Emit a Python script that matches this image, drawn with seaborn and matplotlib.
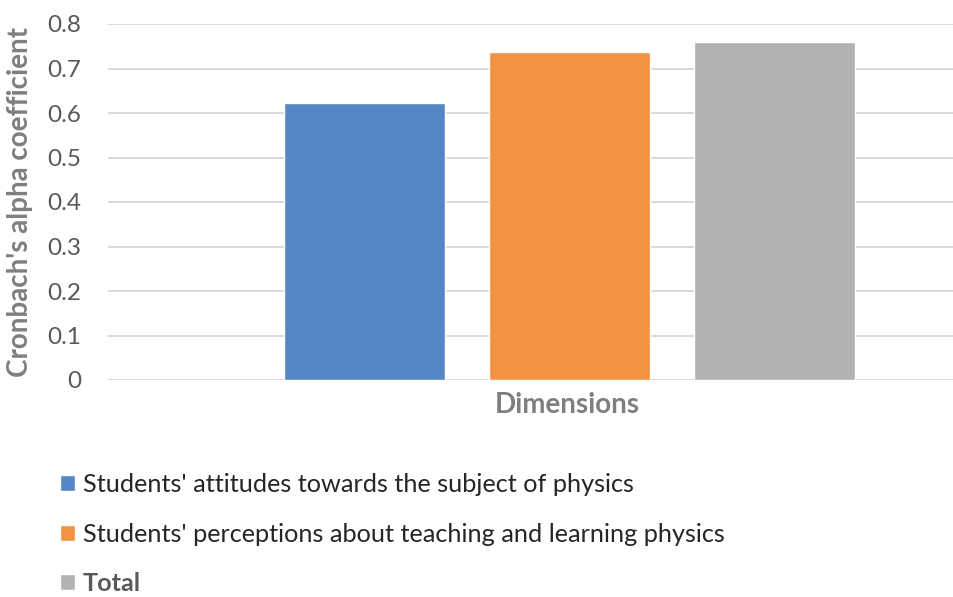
import matplotlib
matplotlib.use("Agg")
import matplotlib.pyplot as plt
import seaborn as sns
import pandas as pd

series = ["Students' attitudes towards the subject of physics",
          "Students' perceptions about teaching and learning physics",
          "Total"]
alpha_values = [0.622, 0.738, 0.760]
colors = ["#5587C7", "#F39241", "#B2B2B2"]
y_ticks = [0, 0.1, 0.2, 0.3, 0.4, 0.5, 0.6, 0.7, 0.8]
y_tick_labels = ["0", "0.1", "0.2", "0.3", "0.4", "0.5", "0.6", "0.7", "0.8"]

df = pd.DataFrame({"series": series, "alpha": alpha_values})

sns.set_theme(style="white")
plt.rcParams["font.family"] = ["Lato", "DejaVu Sans"]

fig = plt.figure(figsize=(9.54, 5.97), dpi=100)
ax = fig.add_axes([108 / 954, 1 - 380 / 597, 1 - 108 / 954, (380 - 24) / 597])

sns.barplot(data=df, x="series", y="alpha", hue="series", palette=colors,
            width=0.785, ax=ax, legend=True, saturation=1)

ax.set_xlim(-1.25, 2.877)
ax.set_ylim(0, 0.8)
ax.set_yticks(y_ticks)
ax.set_yticklabels(y_tick_labels)
ax.set_xticks([])
ax.yaxis.grid(True, color="#D9D9D9", linewidth=1.4)
ax.set_axisbelow(True)
for s in ax.spines.values():
    s.set_visible(False)
ax.tick_params(axis="y", length=0, pad=19, labelsize=17.5, labelcolor="#595959")

ax.set_ylabel("Cronbach's alpha coefficient", fontsize=20, fontweight="bold",
              color="#7F7F7F")
ax.yaxis.set_label_coords((33 - 108) / (954 - 108), 0.5)
ax.set_xlabel("")
fig.text(567 / 954, 1 - 405 / 597, "Dimensions", ha="center", va="center",
         fontsize=20, fontweight="bold", color="#7F7F7F")

handles, labels = ax.get_legend_handles_labels()
ax.get_legend().remove()
leg = fig.legend(handles, labels, loc="upper left",
                 bbox_to_anchor=(50 / 954, 1 - 463 / 597),
                 frameon=False, fontsize=18.2, handlelength=0.6, handleheight=0.6,
                 handletextpad=0.3, labelspacing=1.05, borderaxespad=0)
for t in leg.get_texts():
    t.set_color("#262626")
leg.get_texts()[2].set_fontweight("bold")
leg.get_texts()[2].set_color("#595959")

fig.savefig("out.png", dpi=100)
